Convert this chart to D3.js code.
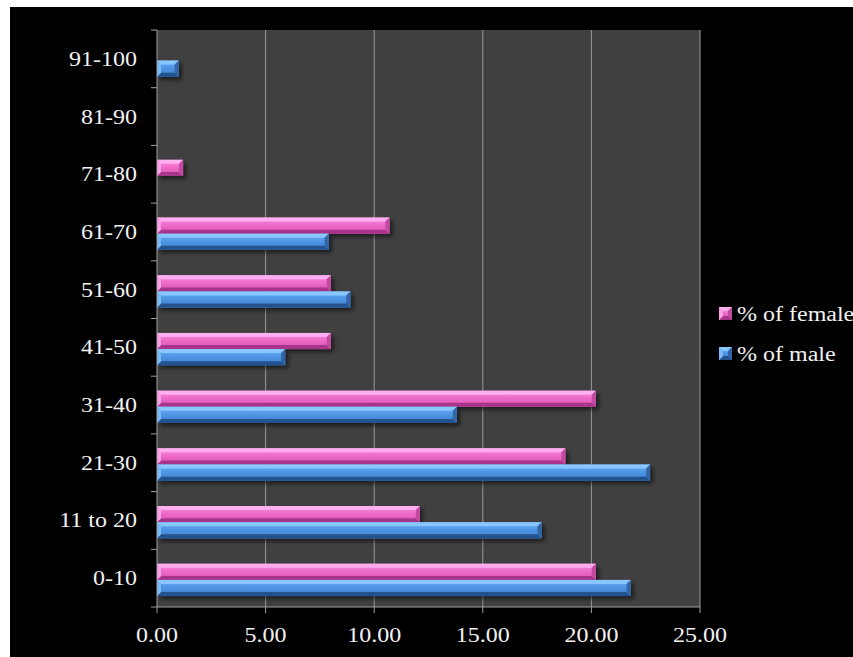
<!DOCTYPE html>
<html>
<head>
<meta charset="utf-8">
<script src="https://cdn.jsdelivr.net/npm/d3@7"></script>
<style>
  html, body { margin: 0; padding: 0; background: #fff; }
  svg { display: block; }
  text { font-family: "Liberation Serif", "Times New Roman", serif; fill: #f2f2f2; }
</style>
</head>
<body>
<svg id="chart" width="853" height="657"></svg>
<script>
// Age groups, bottom to top
const categories = ["0-10", "11 to 20", "21-30", "31-40", "41-50", "51-60", "61-70", "71-80", "81-90", "91-100"];
const femalePct = [20.2, 12.1, 18.8, 20.2, 8.0, 8.0, 10.7, 1.2, 0, 0];
const malePct   = [21.8, 17.7, 22.7, 13.8, 5.9, 8.9, 7.9, 0, 0, 1.0];
const xTicks = [0, 5, 10, 15, 20, 25];
const seriesKeys = ["female", "male"];
const seriesNames = ["% of female", "% of male"];

const svg = d3.select("#chart");
const W = 853, H = 657;
const plot = { left: 157, top: 30, right: 700, bottom: 607 };
const stretch = 1.2; // horizontal stretch of the serif labels

// page frame: white strip top/left, black chart area
svg.append("rect").attr("width", W).attr("height", H).attr("fill", "#fff");
svg.append("rect").attr("x", 10).attr("y", 7).attr("width", W - 10).attr("height", H - 7).attr("fill", "#000");

const x = d3.scaleLinear().domain([0, 25]).range([plot.left, plot.right]);
const y = d3.scaleBand().domain(categories.slice().reverse()).range([plot.top, plot.bottom]).padding(0);
const bw = y.bandwidth();
const ySub = d3.scaleBand().domain(seriesKeys).range([bw * 0.25, bw * 0.81]).padding(0);

const palette = {
  female: { top: "#ffb4f2", hi: "#fb8fe2", mid: "#ee6cc8", lo: "#d854b2", bottom: "#a8368a", right: "#c24aa0", left: "#ff9fe8" },
  male:   { top: "#8fcaff", hi: "#6cb2fa", mid: "#4f96e4", lo: "#3f7fcc", bottom: "#24528e", right: "#3365a8", left: "#7ab8f6" }
};

const defs = svg.append("defs");
Object.entries(palette).forEach(([k, c]) => {
  const g = defs.append("linearGradient").attr("id", "grad-" + k)
    .attr("x1", 0).attr("y1", 0).attr("x2", 0).attr("y2", 1);
  g.append("stop").attr("offset", "0%").attr("stop-color", c.hi);
  g.append("stop").attr("offset", "45%").attr("stop-color", c.mid);
  g.append("stop").attr("offset", "100%").attr("stop-color", c.lo);
});
const shadow = defs.append("filter").attr("id", "shadow")
  .attr("x", "-10%").attr("y", "-40%").attr("width", "130%").attr("height", "200%");
shadow.append("feDropShadow").attr("dx", 3).attr("dy", 3).attr("stdDeviation", 2.2)
  .attr("flood-color", "#000").attr("flood-opacity", 0.55);

// plot background
svg.append("rect").attr("x", plot.left).attr("y", plot.top)
  .attr("width", plot.right - plot.left).attr("height", plot.bottom - plot.top)
  .attr("fill", "#404040");

// vertical gridlines
svg.append("g").selectAll("line").data(xTicks.slice(1)).join("line")
  .attr("x1", d => x(d)).attr("x2", d => x(d))
  .attr("y1", plot.top).attr("y2", plot.bottom)
  .attr("stroke", "#9a9a9a").attr("stroke-width", 1);

// beveled 3D bar
function bevelBar(g, x0, x1, y0, h, c, gradId) {
  const w = x1 - x0;
  if (w <= 0) return;
  const b = Math.min(4, w / 2, h / 3);
  const grp = g.append("g").attr("filter", "url(#shadow)");
  grp.append("rect").attr("x", x0).attr("y", y0).attr("width", w).attr("height", h).attr("fill", `url(#${gradId})`);
  grp.append("polygon").attr("fill", c.top).attr("opacity", 0.9)
    .attr("points", [[x0, y0], [x1, y0], [x1 - b, y0 + b], [x0 + b, y0 + b]].join(" "));
  grp.append("polygon").attr("fill", c.bottom)
    .attr("points", [[x0, y0 + h], [x1, y0 + h], [x1 - b, y0 + h - b], [x0 + b, y0 + h - b]].join(" "));
  grp.append("polygon").attr("fill", c.right)
    .attr("points", [[x1, y0], [x1, y0 + h], [x1 - b, y0 + h - b], [x1 - b, y0 + b]].join(" "));
  grp.append("polygon").attr("fill", c.left)
    .attr("points", [[x0, y0], [x0, y0 + h], [x0 + b, y0 + h - b], [x0 + b, y0 + b]].join(" "));
}

const rows = categories.map((cat, i) => ({ cat, female: femalePct[i], male: malePct[i] }));
const barsG = svg.append("g");
rows.forEach(r => {
  seriesKeys.forEach(k => {
    const v = r[k];
    if (v > 0) {
      bevelBar(barsG, x(0), x(v), y(r.cat) + ySub(k), ySub.bandwidth(), palette[k], "grad-" + k);
    }
  });
});

// axes
const axisColor = "#a0a0a0";
svg.append("line").attr("x1", plot.left).attr("x2", plot.left).attr("y1", plot.top).attr("y2", plot.bottom)
  .attr("stroke", axisColor);
svg.append("line").attr("x1", plot.left).attr("x2", plot.right).attr("y1", plot.bottom).attr("y2", plot.bottom)
  .attr("stroke", axisColor);

const yEdges = categories.map(c => y(c)).concat([plot.bottom]);
svg.append("g").selectAll("line").data(yEdges).join("line")
  .attr("x1", plot.left - 6).attr("x2", plot.left).attr("y1", d => d).attr("y2", d => d)
  .attr("stroke", axisColor);
svg.append("g").selectAll("line").data(xTicks).join("line")
  .attr("x1", d => x(d)).attr("x2", d => x(d)).attr("y1", plot.bottom).attr("y2", plot.bottom + 6)
  .attr("stroke", axisColor);

function stretchText(sel) {
  sel.each(function () {
    const len = this.getComputedTextLength();
    d3.select(this).attr("textLength", len * stretch).attr("lengthAdjust", "spacingAndGlyphs");
  });
}

// category labels
svg.append("g").selectAll("text").data(categories).join("text")
  .attr("x", 137).attr("y", d => y(d) + bw / 2 + 7)
  .attr("text-anchor", "end").attr("font-size", 20)
  .text(d => d).call(stretchText);

// value labels
svg.append("g").selectAll("text").data(xTicks).join("text")
  .attr("x", d => x(d)).attr("y", 642)
  .attr("text-anchor", "middle").attr("font-size", 20)
  .text(d => d3.format(".2f")(d)).call(stretchText);

// legend
const legend = svg.append("g");
seriesKeys.forEach((k, i) => {
  const ly = 307 + i * 40;
  const c = palette[k];
  bevelBar(legend, 719, 732, ly, 13, c, "grad-" + k);
  legend.append("text").attr("x", 737).attr("y", ly + 14).attr("font-size", 20)
    .text(seriesNames[i]).call(stretchText);
});
</script>
</body>
</html>
